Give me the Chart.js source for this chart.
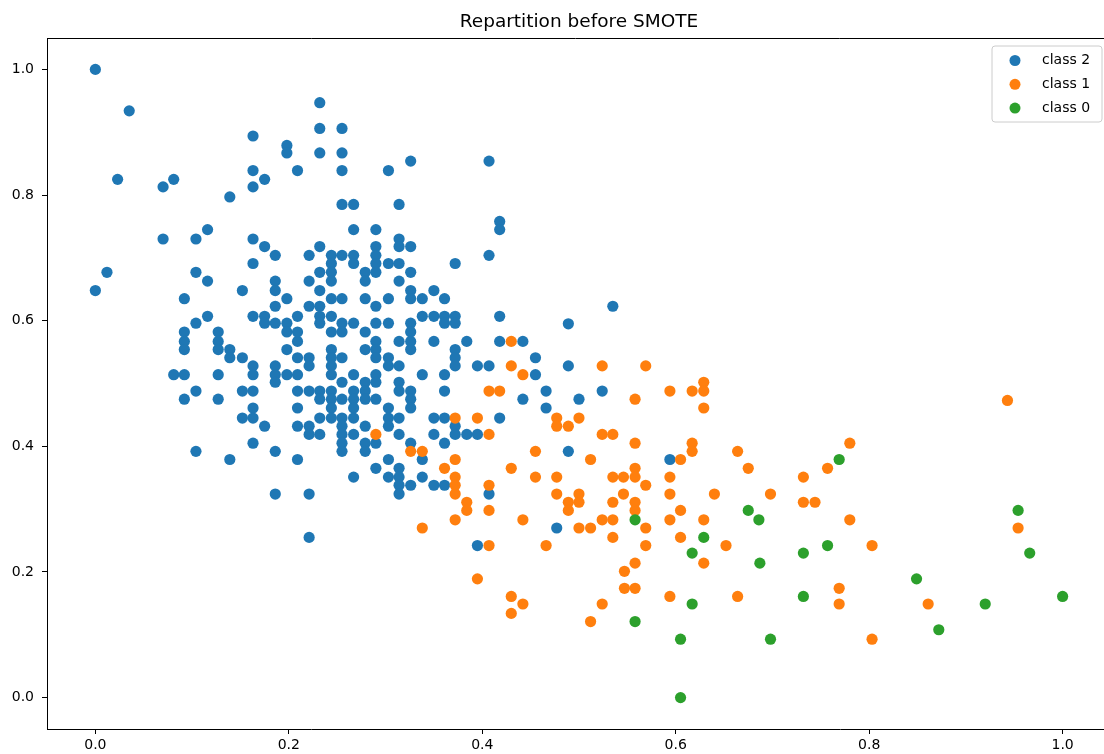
<!DOCTYPE html>
<html>
<head>
<meta charset="utf-8">
<title>Repartition before SMOTE</title>
<script src="https://cdn.jsdelivr.net/npm/chart.js@4/dist/chart.umd.min.js"></script>
<style>
  html, body { margin: 0; padding: 0; background: #fff; overflow: hidden; }
</style>
</head>
<body>
<canvas id="chart" width="1104" height="754"></canvas>
<script>
// values, [x, y]
const chartTitle = "Repartition before SMOTE";
const classLabels = ["class 2", "class 1", "class 0"];
const classColors = ["#1f77b4", "#ff7f0e", "#2ca02c"];
const xTicks = [0, 0.2, 0.4, 0.6, 0.8, 1.0];
const yTicks = [0, 0.2, 0.4, 0.6, 0.8, 1.0];
// visible axis window (the right end of the figure is cut off in the original)
const xMin = -0.05, xMax = 1.0428;
const yMin = -0.05, yMax = 1.05;

const class2 = [
  [0.000,1.000],[0.035,0.934],[0.023,0.825],[0.070,0.813],[0.081,0.825],[0.139,0.797],[0.163,0.894],[0.198,0.879],
  [0.198,0.867],[0.163,0.839],[0.175,0.825],[0.163,0.813],[0.209,0.839],[0.070,0.730],[0.104,0.730],[0.116,0.745],
  [0.163,0.730],[0.175,0.718],[0.186,0.704],[0.163,0.691],[0.012,0.677],[0.104,0.677],[0.116,0.663],[0.186,0.663],
  [0.000,0.648],[0.186,0.648],[0.152,0.648],[0.092,0.635],[0.198,0.635],[0.186,0.623],[0.116,0.607],[0.104,0.596],
  [0.092,0.582],[0.092,0.567],[0.092,0.554],[0.127,0.582],[0.127,0.567],[0.127,0.554],[0.139,0.554],[0.139,0.541],
  [0.152,0.541],[0.163,0.607],[0.175,0.607],[0.175,0.596],[0.186,0.596],[0.198,0.596],[0.198,0.582],[0.209,0.607],
  [0.209,0.567],[0.198,0.554],[0.209,0.541],[0.081,0.514],[0.092,0.514],[0.127,0.514],[0.163,0.528],[0.163,0.514],
  [0.186,0.528],[0.186,0.514],[0.186,0.502],[0.198,0.514],[0.209,0.514],[0.104,0.488],[0.092,0.475],[0.127,0.475],
  [0.152,0.488],[0.163,0.488],[0.209,0.488],[0.163,0.461],[0.152,0.445],[0.163,0.445],[0.175,0.432],[0.209,0.461],
  [0.209,0.432],[0.163,0.405],[0.104,0.392],[0.139,0.379],[0.186,0.392],[0.209,0.379],[0.186,0.324],
  [0.232,0.947],[0.232,0.906],[0.255,0.906],[0.232,0.867],[0.255,0.867],[0.255,0.839],[0.303,0.839],[0.326,0.854],
  [0.407,0.854],[0.255,0.785],[0.267,0.785],[0.314,0.785],[0.418,0.758],[0.418,0.745],[0.267,0.745],[0.290,0.745],
  [0.232,0.718],[0.221,0.704],[0.244,0.704],[0.255,0.704],[0.267,0.704],[0.244,0.691],[0.267,0.691],[0.290,0.718],
  [0.290,0.704],[0.290,0.691],[0.290,0.677],[0.314,0.730],[0.314,0.718],[0.326,0.718],[0.303,0.691],[0.314,0.691],
  [0.326,0.677],[0.314,0.663],[0.279,0.677],[0.279,0.663],[0.232,0.677],[0.244,0.677],[0.244,0.663],[0.221,0.663],
  [0.232,0.648],[0.244,0.635],[0.255,0.635],[0.221,0.623],[0.232,0.623],[0.232,0.607],[0.232,0.596],[0.244,0.607],
  [0.279,0.635],[0.290,0.623],[0.303,0.635],[0.326,0.648],[0.326,0.635],[0.338,0.635],[0.350,0.648],[0.361,0.635],
  [0.372,0.691],[0.407,0.704],[0.418,0.607],[0.338,0.607],[0.350,0.607],[0.361,0.607],[0.372,0.607],[0.372,0.596],
  [0.361,0.596],[0.326,0.596],[0.303,0.596],[0.290,0.596],[0.255,0.596],[0.267,0.596],
  [0.209,0.582],[0.244,0.582],[0.255,0.582],[0.279,0.582],[0.326,0.582],
  [0.290,0.567],[0.314,0.567],[0.326,0.567],[0.350,0.567],[0.384,0.567],[0.418,0.567],[0.442,0.567],
  [0.244,0.554],[0.279,0.554],[0.290,0.554],[0.326,0.554],[0.372,0.554],
  [0.221,0.541],[0.244,0.541],[0.255,0.541],[0.290,0.541],[0.303,0.541],[0.372,0.541],[0.455,0.541],
  [0.221,0.528],[0.244,0.528],[0.303,0.528],[0.314,0.528],[0.372,0.528],[0.395,0.528],[0.407,0.528],
  [0.244,0.514],[0.267,0.514],[0.290,0.514],[0.338,0.514],[0.361,0.514],[0.455,0.514],
  [0.255,0.502],[0.279,0.502],[0.290,0.502],[0.314,0.502],
  [0.221,0.488],[0.232,0.488],[0.244,0.488],[0.267,0.488],[0.279,0.488],[0.314,0.488],[0.326,0.488],[0.361,0.488],[0.466,0.488],
  [0.232,0.475],[0.244,0.475],[0.255,0.475],[0.267,0.475],[0.279,0.475],[0.290,0.475],[0.326,0.475],[0.442,0.475],
  [0.244,0.461],[0.267,0.461],[0.303,0.461],[0.326,0.461],[0.466,0.461],
  [0.232,0.445],[0.244,0.445],[0.255,0.445],[0.267,0.445],[0.303,0.445],[0.314,0.445],[0.350,0.445],[0.361,0.445],[0.418,0.445],
  [0.221,0.432],[0.255,0.432],[0.279,0.432],[0.303,0.432],[0.372,0.432],
  [0.221,0.419],[0.232,0.419],[0.255,0.419],[0.267,0.419],[0.314,0.419],[0.350,0.419],[0.372,0.419],[0.384,0.419],[0.395,0.419],
  [0.255,0.405],[0.279,0.405],[0.290,0.405],[0.326,0.405],[0.361,0.405],
  [0.255,0.392],[0.279,0.392],[0.303,0.379],[0.338,0.379],[0.290,0.365],[0.314,0.365],
  [0.267,0.351],[0.303,0.351],[0.314,0.351],[0.338,0.351],[0.314,0.338],[0.326,0.338],[0.350,0.338],[0.361,0.338],
  [0.221,0.324],[0.314,0.324],[0.407,0.324],[0.477,0.270],[0.221,0.255],[0.395,0.242],
  [0.535,0.623],[0.489,0.595],[0.489,0.528],[0.500,0.475],[0.524,0.488],[0.489,0.392],[0.594,0.379]
];

const class1 = [
  [0.430,0.567],[0.430,0.528],[0.442,0.514],[0.407,0.488],[0.418,0.488],[0.372,0.445],[0.395,0.445],[0.477,0.445],
  [0.477,0.432],[0.290,0.419],[0.407,0.419],[0.326,0.392],[0.338,0.392],[0.455,0.392],[0.372,0.379],[0.361,0.365],
  [0.430,0.365],[0.372,0.351],[0.455,0.351],[0.372,0.338],[0.407,0.338],[0.372,0.324],[0.477,0.324],[0.384,0.311],
  [0.384,0.298],[0.407,0.298],[0.372,0.283],[0.442,0.283],[0.338,0.270],[0.407,0.242],[0.466,0.242],
  [0.524,0.528],[0.569,0.528],[0.629,0.502],[0.629,0.488],[0.617,0.488],[0.594,0.488],[0.558,0.475],[0.629,0.461],
  [0.489,0.432],[0.500,0.445],[0.524,0.419],[0.535,0.419],[0.558,0.405],[0.617,0.405],[0.617,0.392],[0.664,0.392],
  [0.512,0.379],[0.605,0.379],[0.675,0.365],[0.558,0.365],[0.558,0.351],[0.535,0.351],[0.546,0.351],[0.477,0.351],
  [0.594,0.351],[0.569,0.338],[0.732,0.351],[0.500,0.324],[0.546,0.324],[0.594,0.324],[0.640,0.324],[0.698,0.324],
  [0.489,0.311],[0.500,0.311],[0.535,0.311],[0.558,0.311],[0.732,0.311],[0.744,0.311],[0.489,0.298],[0.558,0.298],
  [0.605,0.298],[0.524,0.283],[0.535,0.283],[0.594,0.283],[0.629,0.283],[0.500,0.270],[0.512,0.270],[0.569,0.270],
  [0.535,0.255],[0.605,0.255],[0.569,0.242],[0.652,0.242],
  [0.558,0.214],[0.629,0.214],[0.547,0.201],[0.395,0.189],[0.547,0.174],[0.558,0.174],[0.594,0.161],[0.664,0.161],
  [0.430,0.161],[0.442,0.149],[0.430,0.134],[0.524,0.149],[0.512,0.121],
  [0.943,0.473],[0.780,0.405],[0.757,0.365],[0.780,0.283],[0.803,0.242],[0.954,0.270],[0.769,0.174],[0.769,0.149],
  [0.861,0.149],[0.803,0.093]
];

const class0 = [
  [0.675,0.298],[0.686,0.283],[0.558,0.283],[0.629,0.255],[0.617,0.230],[0.732,0.230],[0.769,0.379],[0.757,0.242],
  [0.954,0.298],[0.966,0.230],[0.849,0.189],[0.920,0.149],[1.000,0.161],[0.872,0.108],[0.687,0.214],[0.732,0.161],
  [0.617,0.149],[0.558,0.121],[0.605,0.093],[0.698,0.093],[0.605,0.000]
];

const FONT = "'DejaVu Sans', sans-serif";
const toPoints = arr => arr.map(p => ({ x: p[0], y: p[1] }));
const allClasses = [class2, class1, class0];

// title, top spine and the in-axes legend, drawn like matplotlib does
const decor = {
  id: "decor",
  afterDraw(chart) {
    const { ctx, chartArea: a } = chart;
    ctx.save();
    ctx.fillStyle = "#000";
    ctx.font = "18.5px " + FONT;
    ctx.textAlign = "center";
    ctx.textBaseline = "alphabetic";
    // centre of the full (uncut) axes
    const fullRight = chart.scales.x.getPixelForValue(1.05);
    ctx.fillText(chartTitle, (a.left + fullRight) / 2, 27);

    ctx.strokeStyle = "#000";
    ctx.lineWidth = 1;
    ctx.beginPath();
    ctx.moveTo(a.left, a.top + 0.5);
    ctx.lineTo(a.right, a.top + 0.5);
    ctx.stroke();

    // legend box
    const bx = 992, by = 46, bw = 110, bh = 76, r = 3;
    ctx.beginPath();
    ctx.moveTo(bx + r, by);
    ctx.arcTo(bx + bw, by, bx + bw, by + bh, r);
    ctx.arcTo(bx + bw, by + bh, bx, by + bh, r);
    ctx.arcTo(bx, by + bh, bx, by, r);
    ctx.arcTo(bx, by, bx + bw, by, r);
    ctx.closePath();
    ctx.fillStyle = "rgba(255,255,255,0.8)";
    ctx.fill();
    ctx.strokeStyle = "#cccccc";
    ctx.stroke();

    ctx.font = "14px " + FONT;
    ctx.textAlign = "left";
    ctx.textBaseline = "middle";
    chart.data.datasets.forEach((ds, i) => {
      const cy = 60.5 + i * 23.8;
      ctx.beginPath();
      ctx.arc(1015, cy, 5.5, 0, Math.PI * 2);
      ctx.fillStyle = ds.backgroundColor;
      ctx.fill();
      ctx.fillStyle = "#000";
      ctx.fillText(ds.label, 1042, cy);
    });
    ctx.restore();
  }
};

const tickStyle = {
  color: "#000",
  font: { family: FONT, size: 14 },
  callback: v => Number(v).toFixed(1)
};

new Chart(document.getElementById("chart"), {
  type: "scatter",
  data: {
    datasets: allClasses.map((pts, i) => ({
      label: classLabels[i],
      data: toPoints(pts),
      backgroundColor: classColors[i],
      borderWidth: 0,
      pointRadius: 5.6,
      pointHoverRadius: 5.6,
      order: allClasses.length - i
    }))
  },
  options: {
    responsive: false,
    animation: false,
    events: [],
    layout: { autoPadding: false, padding: { top: 38, right: 0, left: 0, bottom: 0 } },
    plugins: {
      legend: { display: false },
      title: { display: false },
      tooltip: { enabled: false }
    },
    scales: {
      x: {
        type: "linear",
        min: xMin,
        max: xMax,
        afterBuildTicks: s => { s.ticks = xTicks.map(v => ({ value: v })); },
        afterFit: s => { s.height = 25; },
        grid: { drawOnChartArea: false, drawTicks: true, tickLength: 5, color: "#000" },
        border: { display: true, color: "#000" },
        ticks: Object.assign({ padding: 3, maxRotation: 0 }, tickStyle)
      },
      y: {
        type: "linear",
        min: yMin,
        max: yMax,
        afterBuildTicks: s => { s.ticks = yTicks.map(v => ({ value: v })); },
        afterFit: s => { s.width = 47; },
        grid: { drawOnChartArea: false, drawTicks: true, tickLength: 5, color: "#000" },
        border: { display: true, color: "#000" },
        ticks: Object.assign({ padding: 8 }, tickStyle)
      }
    }
  },
  plugins: [decor]
});
</script>
</body>
</html>
